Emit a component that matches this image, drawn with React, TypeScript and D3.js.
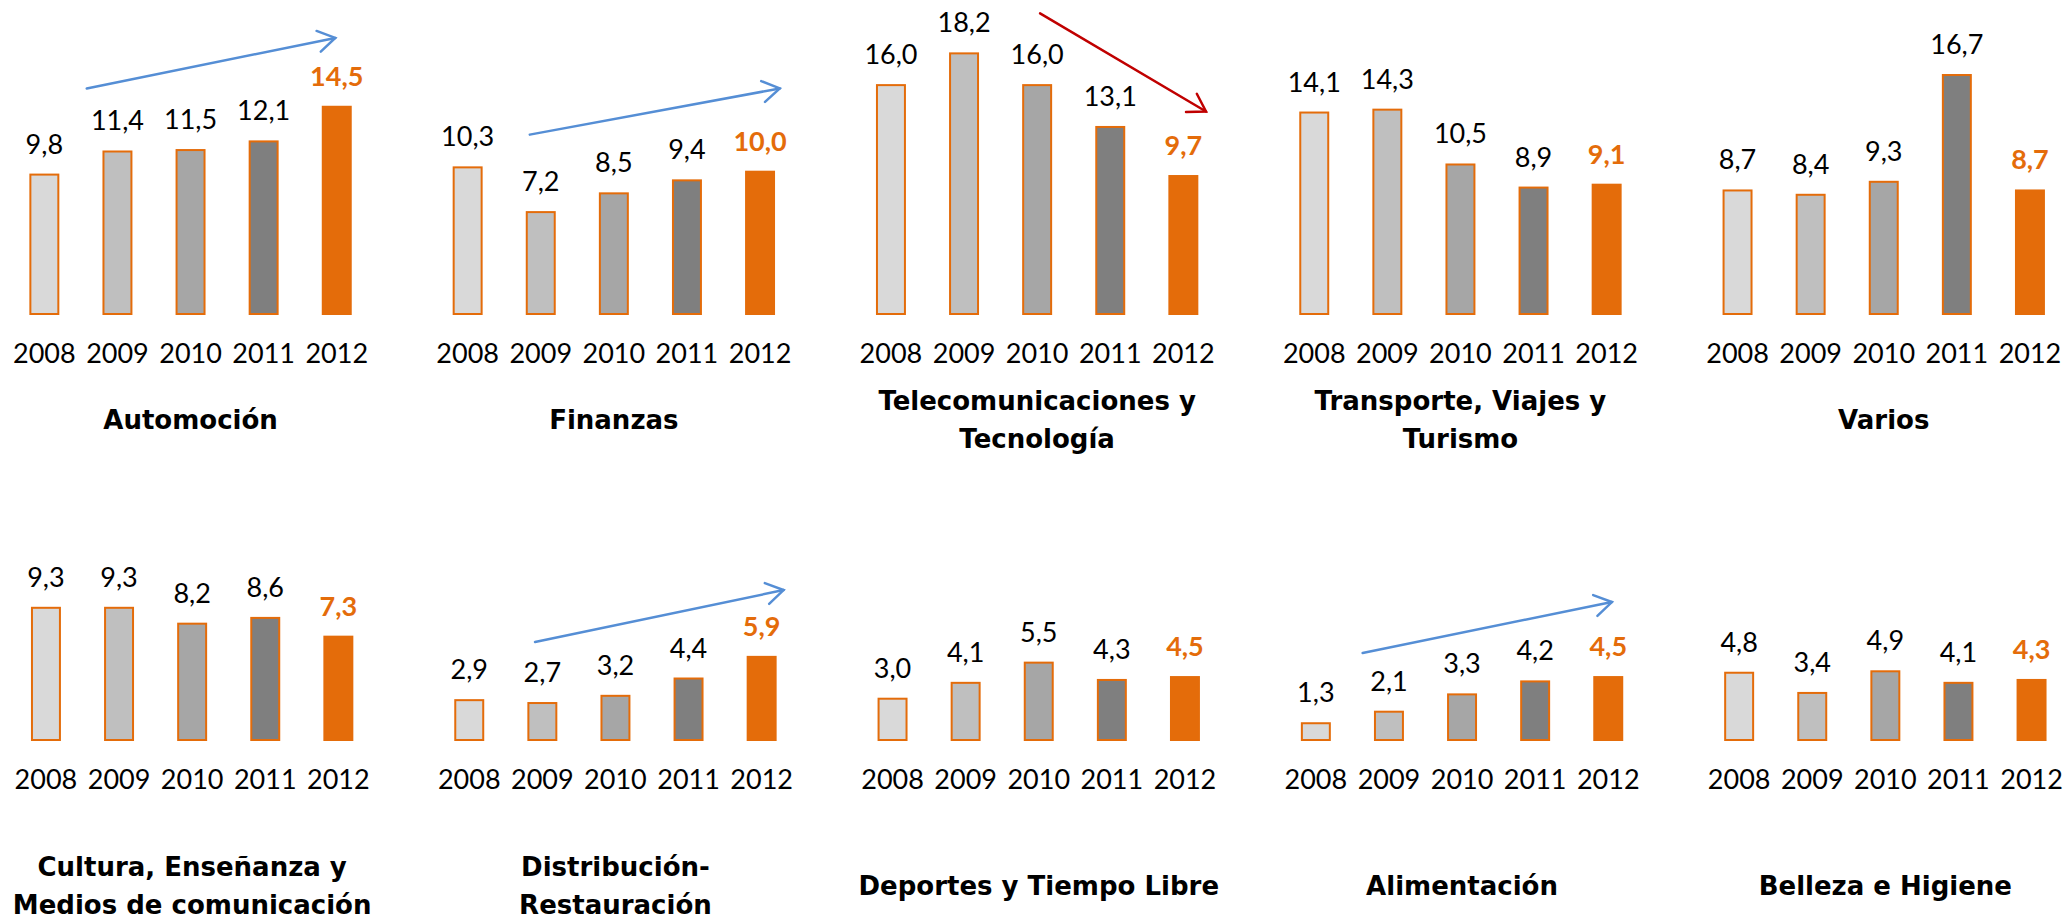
import * as d3 from "d3";

const years = ["2008", "2009", "2010", "2011", "2012"];

const automocion = [9.8, 11.4, 11.5, 12.1, 14.5];
const finanzas = [10.3, 7.2, 8.5, 9.4, 10.0];
const telecom = [16.0, 18.2, 16.0, 13.1, 9.7];
const transporte = [14.1, 14.3, 10.5, 8.9, 9.1];
const varios = [8.7, 8.4, 9.3, 16.7, 8.7];
const cultura = [9.3, 9.3, 8.2, 8.6, 7.3];
const distribucion = [2.9, 2.7, 3.2, 4.4, 5.9];
const deportes = [3.0, 4.1, 5.5, 4.3, 4.5];
const alimentacion = [1.3, 2.1, 3.3, 4.2, 4.5];
const belleza = [4.8, 3.4, 4.9, 4.1, 4.3];

const topTitles = [
  ["Automoción"],
  ["Finanzas"],
  ["Telecomunicaciones y", "Tecnología"],
  ["Transporte, Viajes y", "Turismo"],
  ["Varios"],
];
const bottomTitles = [
  ["Cultura, Enseñanza y", "Medios de comunicación"],
  ["Distribución-", "Restauración"],
  ["Deportes y Tiempo Libre"],
  ["Alimentación"],
  ["Belleza e Higiene"],
];
const topValues = [automocion, finanzas, telecom, transporte, varios];
const bottomValues = [cultura, distribucion, deportes, alimentacion, belleza];

// trend arrows: [fromIndex, fromValue, toIndex, toValue] in data units, or null
const topArrows = [
  [0.58, 15.7, 3.98, 19.2],
  [0.85, 12.5, 4.27, 15.7],
  [2.04, 20.9, 4.31, 14.1],
  null,
  null,
];
const bottomArrows = [null, [0.9, 6.86, 4.3, 10.46], null, [0.64, 6.1, 4.05, 9.63], null];

const barFills = ["#D9D9D9", "#BFBFBF", "#A6A6A6", "#7F7F7F", "#E46C0A"];
const orange = "#E46C0A";
const font = "'Lato', 'Noto Sans', sans-serif";
const titleFont = "'DejaVu Sans', 'Lato', sans-serif";

const fmt = (v: number) => d3.format(".1f")(v).replace(".", ",");

const x = d3
  .scaleBand()
  .domain(years)
  .range([0, 365.5])
  .paddingInner(0.59)
  .paddingOuter(0.295);
const bw = x.bandwidth();
const cx = (i: number) => x.step() * 0.295 + i * x.step() + bw / 2;

interface PanelProps {
  values: number[];
  title: string[];
  arrow: number[] | null;
  left: number;
  base: number;
  titleY: number;
}

function Panel({ values, title, arrow, left, base, titleY }: PanelProps) {
  const y = d3.scaleLinear().domain([0, 20]).range([base, base - 288.6]);
  let arrowEl = null;
  if (arrow) {
    const [i0, v0, i1, v1] = arrow;
    const x0 = cx(i0), y0 = y(v0), x1 = cx(i1), y1 = y(v1);
    const ang = Math.atan2(y1 - y0, x1 - x0);
    const len = 20;
    const spread = (32 * Math.PI) / 180;
    const wa = [ang + Math.PI - spread, ang + Math.PI + spread];
    const color = v1 < v0 ? "#C00000" : "#558ED5";
    arrowEl = (
      <g stroke={color} strokeWidth={2.5} fill="none" strokeLinecap="round">
        <line x1={x0} y1={y0} x2={x1} y2={y1} />
        <path
          d={`M${x1 + len * Math.cos(wa[0])},${y1 + len * Math.sin(wa[0])}L${x1},${y1}L${
            x1 + len * Math.cos(wa[1])
          },${y1 + len * Math.sin(wa[1])}`}
        />
      </g>
    );
  }
  const mid = x.range()[1] / 2;
  return (
    <g transform={`translate(${left},0)`}>
      {values.map((v, i) => {
        const last = i === years.length - 1;
        const bx = x(years[i])!;
        return (
          <g key={years[i]}>
            {last ? (
              <rect x={bx} y={y(v)} width={bw} height={base - y(v)} fill={barFills[i]} />
            ) : (
              <rect
                x={bx + 1}
                y={y(v) + 1}
                width={bw - 2}
                height={base - y(v) - 2}
                fill={barFills[i]}
                stroke={orange}
                strokeWidth={2}
              />
            )}
            <text
              x={bx + bw / 2}
              y={y(v) - 20}
              textAnchor="middle"
              fontSize={27}
              fontWeight={last ? 700 : 400}
              fill={last ? orange : "#000"}
            >
              {fmt(v)}
            </text>
            <text x={bx + bw / 2} y={base + 48} textAnchor="middle" fontSize={27} fill="#000">
              {years[i]}
            </text>
          </g>
        );
      })}
      {arrowEl}
      {title.map((t, k) => (
        <text
          key={t}
          x={mid}
          y={titleY + (k - (title.length - 1) / 2) * 38}
          textAnchor="middle"
          fontSize={26}
          fontWeight={700}
          fontFamily={titleFont}
          fill="#000"
        >
          {t}
        </text>
      ))}
    </g>
  );
}

export default function App() {
  const colStep = 423.3;
  return (
    <svg
      width={2067}
      height={920}
      style={{ position: "absolute", left: 0, top: 0, background: "#fff" }}
      fontFamily={font}
    >
      {topValues.map((vals, c) => (
        <Panel
          key={"t" + c}
          values={vals}
          title={topTitles[c]}
          arrow={topArrows[c]}
          left={7.8 + c * colStep}
          base={315}
          titleY={429}
        />
      ))}
      {bottomValues.map((vals, c) => (
        <Panel
          key={"b" + c}
          values={vals}
          title={bottomTitles[c]}
          arrow={bottomArrows[c]}
          left={9.4 + c * colStep}
          base={741}
          titleY={895}
        />
      ))}
    </svg>
  );
}
